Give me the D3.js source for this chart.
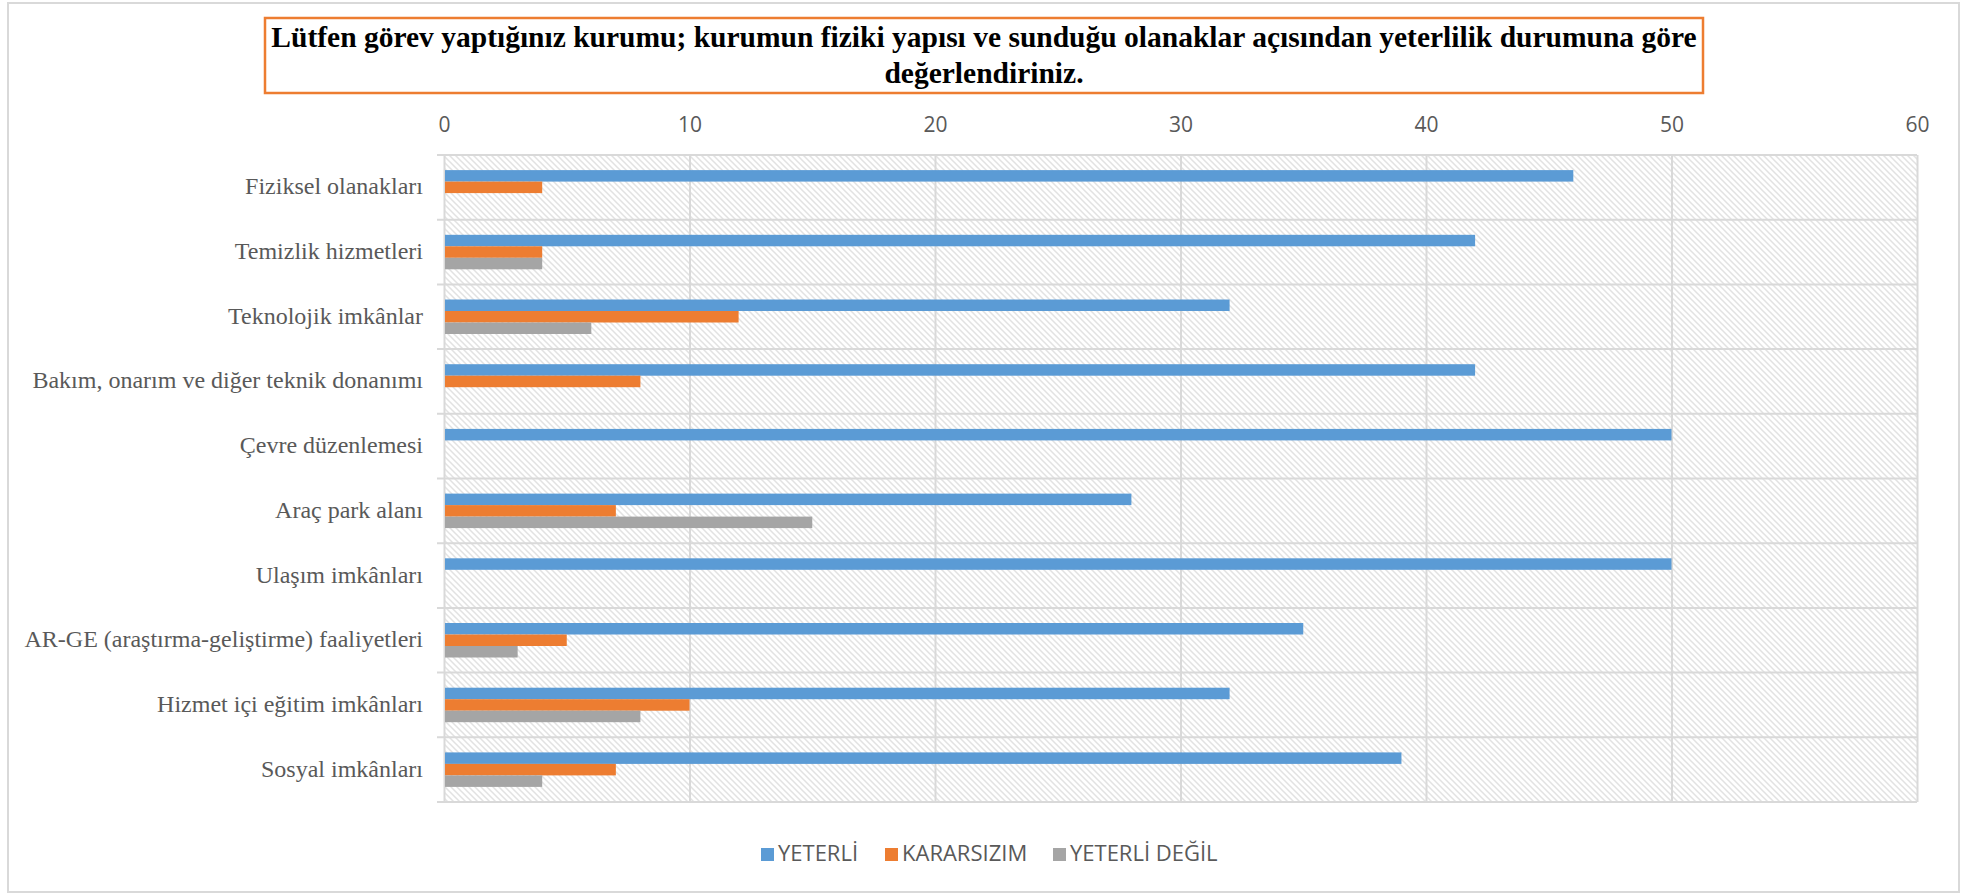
<!DOCTYPE html>
<html>
<head>
<meta charset="utf-8">
<script src="https://cdn.jsdelivr.net/npm/d3@7"></script>
<style>
  body { margin: 0; background: #fff; }
  svg { display: block; }
</style>
</head>
<body>
<div class="canvas"></div>
<script>
// data
const categories = [
  "Fiziksel olanakları",
  "Temizlik hizmetleri",
  "Teknolojik imkânlar",
  "Bakım, onarım ve diğer teknik donanımı",
  "Çevre düzenlemesi",
  "Araç park alanı",
  "Ulaşım imkânları",
  "AR-GE (araştırma-geliştirme) faaliyetleri",
  "Hizmet içi eğitim imkânları",
  "Sosyal imkânları",
];
const seriesNames = ["YETERLİ", "KARARSIZIM", "YETERLİ DEĞİL"];
const yeterli = [46, 42, 32, 42, 50, 28, 50, 35, 32, 39];
const kararsizim = [4, 4, 12, 8, 0, 7, 0, 5, 10, 7];
const yeterliDegil = [0, 4, 6, 0, 0, 15, 0, 3, 8, 4];
const xTicks = [0, 10, 20, 30, 40, 50, 60];
const titleLines = [
  "Lütfen görev yaptığınız kurumu; kurumun fiziki yapısı ve sunduğu olanaklar açısından yeterlilik durumuna göre",
  "değerlendiriniz.",
];

// margins and dimensions
const w = 1973;
const h = 894;
const plot = { left: 444, right: 1917, top: 155, bottom: 802 };
const colors = ["#5B9BD5", "#ED7D31", "#A5A5A5"];
const gridColor = "#d9d9d9";
const textColor = "#595959";

const svg = d3.select(".canvas").append("svg").attr("width", w).attr("height", h);

// hatch pattern for the plot background
const defs = svg.append("defs");
const pat = defs
  .append("pattern")
  .attr("id", "hatch")
  .attr("patternUnits", "userSpaceOnUse")
  .attr("width", 6)
  .attr("height", 6);
pat.append("rect").attr("width", 6).attr("height", 6).attr("fill", "#fff");
pat
  .append("path")
  .attr("d", "M-3,3 L3,9 M0,0 L6,6 M3,-3 L9,3")
  .attr("stroke", "#e2e2e2")
  .attr("stroke-width", 1.5);

// outer chart border
svg
  .append("rect")
  .attr("x", 8)
  .attr("y", 3)
  .attr("width", 1951)
  .attr("height", 889)
  .attr("fill", "none")
  .attr("stroke", gridColor)
  .attr("stroke-width", 2);

// title box
svg
  .append("rect")
  .attr("x", 265)
  .attr("y", 18)
  .attr("width", 1438)
  .attr("height", 75)
  .attr("fill", "#fff")
  .attr("stroke", "#ED7D31")
  .attr("stroke-width", 2.5);

svg
  .append("g")
  .selectAll("text")
  .data(titleLines)
  .enter()
  .append("text")
  .attr("x", 984)
  .attr("y", (d, i) => 47 + i * 36)
  .attr("text-anchor", "middle")
  .style("font-family", "'Liberation Serif', 'Times New Roman', serif")
  .style("font-weight", "bold")
  .style("font-size", "29.5px")
  .style("fill", "#000")
  .text((d) => d);

// scales
const x = d3.scaleLinear().domain([0, 60]).range([plot.left, plot.right]);
const y = d3
  .scaleBand()
  .domain(categories)
  .range([plot.top, plot.bottom])
  .paddingInner(0.467)
  .paddingOuter(0.2335);
const ySub = d3.scaleBand().domain(seriesNames).range([0, y.bandwidth()]);

// background
svg
  .append("rect")
  .attr("x", plot.left)
  .attr("y", plot.top)
  .attr("width", plot.right - plot.left)
  .attr("height", plot.bottom - plot.top)
  .attr("fill", "url(#hatch)");

// vertical gridlines
svg
  .append("g")
  .attr("transform", `translate(0, ${plot.top})`)
  .call(d3.axisTop(x).tickValues(xTicks).tickSize(-(plot.bottom - plot.top)).tickFormat(""))
  .call((g) => g.select(".domain").remove())
  .call((g) => g.selectAll("line").attr("stroke", gridColor).attr("stroke-width", 2));

// horizontal category boundaries
const step = y.step();
svg
  .append("g")
  .selectAll("line")
  .data(d3.range(categories.length + 1))
  .enter()
  .append("line")
  .attr("x1", plot.left - 7)
  .attr("x2", plot.right)
  .attr("y1", (d) => plot.top + d * step)
  .attr("y2", (d) => plot.top + d * step)
  .attr("stroke", gridColor)
  .attr("stroke-width", 2);

// x axis labels on top
svg
  .append("g")
  .attr("transform", `translate(0, 132)`)
  .call(d3.axisTop(x).tickValues(xTicks).tickSize(0).tickPadding(0))
  .call((g) => g.select(".domain").remove())
  .call((g) =>
    g
      .selectAll("text")
      .style("font-family", "'Open Sans', sans-serif")
      .style("font-size", "21px")
      .attr("fill", textColor)
      .attr("dy", 0)
  );

// category labels
svg
  .append("g")
  .selectAll("text")
  .data(categories)
  .enter()
  .append("text")
  .attr("x", 423)
  .attr("y", (d) => y(d) + y.bandwidth() / 2 + 7)
  .attr("text-anchor", "end")
  .style("font-family", "'Liberation Serif', 'Times New Roman', serif")
  .style("font-size", "24px")
  .style("fill", textColor)
  .text((d) => d);

// bars
const series = [yeterli, kararsizim, yeterliDegil];
series.forEach((vals, si) => {
  svg
    .append("g")
    .selectAll("rect")
    .data(vals)
    .enter()
    .append("rect")
    .attr("x", x(0) + 1)
    .attr("y", (d, i) => y(categories[i]) + ySub(seriesNames[si]))
    .attr("width", (d) => Math.max(0, x(d) - x(0) - 1))
    .attr("height", ySub.bandwidth())
    .attr("fill", colors[si]);
});

// legend
const legendX = [761, 885, 1053];
const legend = svg.append("g");
legend
  .selectAll("rect")
  .data(seriesNames)
  .enter()
  .append("rect")
  .attr("x", (d, i) => legendX[i])
  .attr("y", 848)
  .attr("width", 13)
  .attr("height", 13)
  .attr("fill", (d, i) => colors[i]);
legend
  .selectAll("text")
  .data(seriesNames)
  .enter()
  .append("text")
  .attr("x", (d, i) => legendX[i] + 17)
  .attr("y", 861)
  .style("font-family", "'Open Sans', sans-serif")
  .style("font-size", "22px")
  .style("fill", textColor)
  .text((d) => d);
</script>
</body>
</html>
